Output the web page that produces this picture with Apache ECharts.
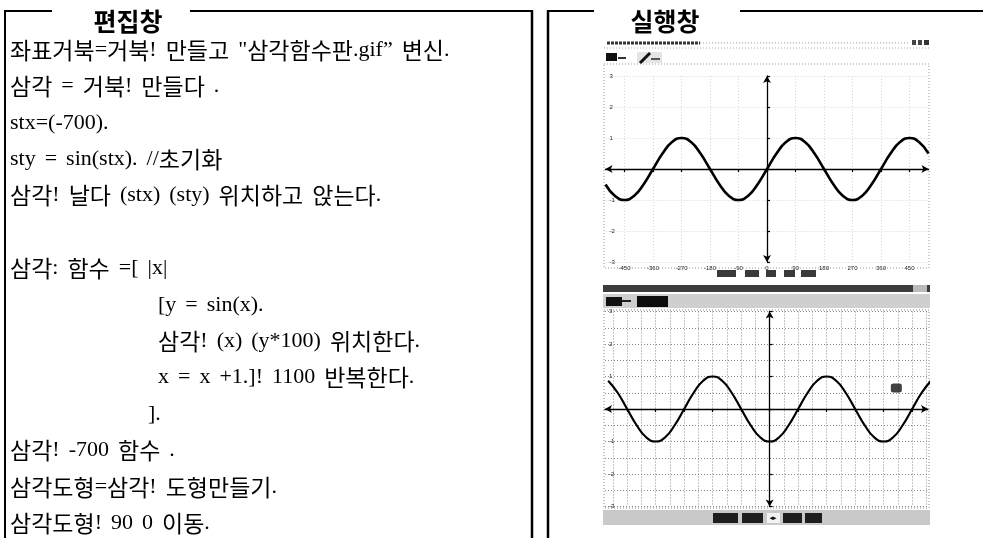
<!DOCTYPE html>
<html><head><meta charset="utf-8">
<script src="https://cdn.jsdelivr.net/npm/echarts@6/dist/echarts.min.js"></script>
<style>html,body{margin:0;padding:0;background:#fff}#c{width:983px;height:538px}</style>
</head><body><div id="c"></div>
<script>
// ---- text content ----
const panelTitles = ['편집창', '실행창'];
const codeLines = [
  '좌표거북=거북! 만들고 "삼각함수판.gif” 변신.',
  '삼각 = 거북! 만들다 .',
  'stx=(-700).',
  'sty = sin(stx). //초기화',
  '삼각! 날다 (stx) (sty) 위치하고 앉는다.',
  '',
  '삼각: 함수 =[ |x|',
  '[y = sin(x).',
  '삼각! (x) (y*100) 위치한다.',
  'x = x +1.]! 1100 반복한다.',
  '].',
  '삼각! -700 함수 .',
  '삼각도형=삼각! 도형만들기.',
  '삼각도형! 90 0 이동.'
];
const codeIndent = [0, 0, 0, 0, 0, 0, 0, 1, 1, 1, 2, 0, 0, 0];

// ---- data ----
const xDeg = [-510, -480, -450, -420, -390, -360, -330, -300, -270, -240, -210, -180, -150, -120, -90, -60, -30,
  0, 30, 60, 90, 120, 150, 180, 210, 240, 270, 300, 330, 360, 390, 420, 450, 480, 510];
const upperWave = [-0.5, -0.87, -1, -0.87, -0.5, 0, 0.5, 0.87, 1, 0.87, 0.5, 0, -0.5, -0.87, -1, -0.87, -0.5,
  0, 0.5, 0.87, 1, 0.87, 0.5, 0, -0.5, -0.87, -1, -0.87, -0.5, 0, 0.5, 0.87, 1, 0.87, 0.5];
const lowerWave = [0.87, 0.5, 0, -0.5, -0.87, -1, -0.87, -0.5, 0, 0.5, 0.87, 1, 0.87, 0.5, 0, -0.5, -0.87,
  -1, -0.87, -0.5, 0, 0.5, 0.87, 1, 0.87, 0.5, 0, -0.5, -0.87, -1, -0.87, -0.5, 0, 0.5, 0.87];
const turtlePos = [[400, 0.65]];
const xTickVals = [-450, -360, -270, -180, -90, 0, 90, 180, 270, 360, 450];
const xGridTop = [-450, -360, -270, -180, -90, 0, 90, 180, 270, 360, 450];
const xGridBottom = [-495, -450, -405, -360, -315, -270, -225, -180, -135, -90, -45, 0, 45, 90, 135, 180, 225, 270, 315, 360, 405, 450, 495];

const chart = echarts.init(document.getElementById('c'));
const pairs = (xs, ys) => xs.map((x, i) => [x, ys[i]]);
const blk = '#000';

function mainX(gi, min, max) {
  return { type: 'value', gridIndex: gi, min, max,
    axisLine: { onZero: true, symbol: ['arrow', 'arrow'], symbolSize: [6, 7], lineStyle: { color: blk, width: 1.3 } },
    axisTick: { customValues: xTickVals, length: 3, lineStyle: { color: blk, width: 1.2 } },
    axisLabel: { customValues: xTickVals, fontSize: 6, color: '#222', margin: 3, fontFamily: 'Liberation Sans' },
    splitLine: { show: false } };
}
function gridX(gi, min, max, vals, color) {
  return { type: 'value', gridIndex: gi, min, max, position: 'top',
    axisLine: { show: false }, axisTick: { show: false, customValues: vals }, axisLabel: { show: false, customValues: vals },
    splitLine: { show: true, lineStyle: { color, type: [1, 2], width: 1 } } };
}
function mainY(gi) {
  return { type: 'value', gridIndex: gi, min: -3, max: 3, interval: 1,
    axisLine: { onZero: true, symbol: ['arrow', 'arrow'], symbolSize: [6, 7], lineStyle: { color: blk, width: 1.3 } },
    axisTick: { length: 3, inside: true, lineStyle: { color: blk, width: 1.2 } },
    axisLabel: { inside: true, fontSize: 6, color: '#222', margin: 4, fontFamily: 'Liberation Sans',
      formatter: v => (v === 0 ? '' : String(v)) },
    splitLine: { show: false } };
}
function gridY(gi, interval, color) {
  return { type: 'value', gridIndex: gi, min: -3, max: 3, interval, position: 'right',
    axisLine: { show: false }, axisTick: { show: false }, axisLabel: { show: false },
    splitLine: { show: true, lineStyle: { color, type: [1, 2], width: 1 } } };
}

const g = [];
const L = (x1, y1, x2, y2, w, c, dash) => g.push({ type: 'line', silent: true, z: 10,
  shape: { x1, y1, x2, y2 }, style: { stroke: c || blk, lineWidth: w || 2, lineDash: dash || null } });
const R = (x, y, w, h, fill, stroke, dash) => g.push({ type: 'rect', silent: true, z: 5,
  shape: { x, y, width: w, height: h }, style: { fill: fill || 'none', stroke: stroke || null, lineWidth: 1, lineDash: dash || null } });

// mixed Korean / Latin line as rich text (Hangul wider, Latin in a Times-like face)
const richStyles = {
  k: { font: '23px "Noto Sans CJK KR"', fill: blk, verticalAlign: 'middle' },
  l: { font: '22px "Liberation Serif"', fill: blk, verticalAlign: 'middle' },
  s: { font: '22px "Liberation Serif"', width: 9 }
};
function richify(s) {
  let out = '', run = '', mode = '';
  const flush = () => { if (run) out += '{' + mode + '|' + run + '}'; run = ''; };
  for (const ch of s) {
    const m = /[\uAC00-\uD7A3\u3131-\u318E]/.test(ch) ? 'k' : (ch === ' ' ? 's' : 'l');
    if (m === 's') { flush(); out += '{s| }'; mode = ''; continue; }
    if (m !== mode) { flush(); mode = m; }
    run += ch;
  }
  flush();
  return out;
}
const T = (x, y, text, extra) => g.push({ type: 'text', silent: true, z: 20, x, y,
  style: Object.assign({ text, fill: blk, verticalAlign: 'middle' }, extra || {}) });

// panel frames
L(5, 11, 52, 11, 2); L(190, 11, 532, 11, 2); L(5, 10, 5, 538, 2); L(532, 10, 532, 538, 2.5);
L(548, 11, 594, 11, 2); L(740, 11, 983, 11, 2); L(548, 10, 548, 538, 2.5);
T(128, 21, panelTitles[0], { align: 'center', font: 'bold 25px "Noto Sans CJK KR"' });
T(665, 21, panelTitles[1], { align: 'center', font: 'bold 25px "Noto Sans CJK KR"' });

// code lines
const indentX = [10, 158, 148];
codeLines.forEach((s, i) => { if (s) T(indentX[codeIndent[i]], 50 + i * 36.4, richify(s), { rich: richStyles, font: '22px "Liberation Serif"' }); });

// --- screenshot 1 chrome ---
L(607, 43, 700, 43, 3, '#333', [3, 1]);
L(700, 43, 910, 43, 1, '#999', [1, 2]);
R(912, 40, 4, 5, '#444'); R(918, 40, 4, 5, '#444'); R(924, 40, 5, 5, '#333');
L(604, 48, 929, 48, 1, '#aaa', [1, 2]);
R(606, 53, 11, 8, '#111'); L(618, 58, 626, 58, 2, '#333');
R(637, 52, 25, 11, '#e4e4e4'); L(640, 63, 650, 53, 3, '#111'); L(651, 59, 660, 59, 2, '#555');
R(604, 64, 325, 204, 'none', '#999', [1, 2]);
[[717, 19], [745, 14], [766, 10], [784, 11], [801, 15]].forEach(b => R(b[0], 270, b[1], 7, '#3a3a3a'));

// --- screenshot 2 chrome ---
R(603, 285, 327, 7, '#3c3c3c'); R(913, 285, 14, 7, '#bbb');
R(603, 294, 327, 14, '#cfcfcf'); R(606, 297, 16, 9, '#111'); L(622, 301, 631, 301, 2, '#222');
R(637, 296, 31, 11, '#0c0c0c');
R(604, 310, 325, 198, 'none', '#888', [1, 2]);
R(603, 510, 327, 15, '#c9c9c9');
R(713, 513, 25, 10, '#1e1e1e'); R(742, 513, 21, 10, '#1e1e1e'); R(767, 513, 13, 10, '#f2f2f2');
T(773, 518, '◂▸', { align: 'center', fill: '#111', font: '7px "DejaVu Sans"' });
R(783, 513, 19, 10, '#1e1e1e'); R(805, 513, 17, 10, '#1e1e1e');

chart.setOption({
  animation: false,
  backgroundColor: '#fff',
  grid: [
    { left: 605.5, top: 76, width: 323, height: 186 },
    { left: 605, top: 311.5, width: 323, height: 195 }
  ],
  xAxis: [mainX(0, -510, 510), gridX(0, -510, 510, xGridTop, '#d6d6d6'),
          mainX(1, -520, 500), gridX(1, -520, 500, xGridBottom, '#8a8a8a')],
  yAxis: [mainY(0), gridY(0, 1, '#d6d6d6'), mainY(1), gridY(1, 0.5, '#8a8a8a')],
  series: [
    { type: 'line', xAxisIndex: 0, yAxisIndex: 0, data: pairs(xDeg, upperWave), smooth: true, symbol: 'none',
      lineStyle: { color: blk, width: 2.6 }, z: 5 },
    { type: 'line', xAxisIndex: 2, yAxisIndex: 2, data: pairs(xDeg, lowerWave), smooth: true, symbol: 'none',
      lineStyle: { color: blk, width: 2.2 }, z: 5 },
    { type: 'scatter', xAxisIndex: 2, yAxisIndex: 2, data: turtlePos, symbol: 'roundRect', symbolSize: [11, 9],
      itemStyle: { color: '#111' }, z: 6 }
  ],
  graphic: g
});
</script></body></html>
